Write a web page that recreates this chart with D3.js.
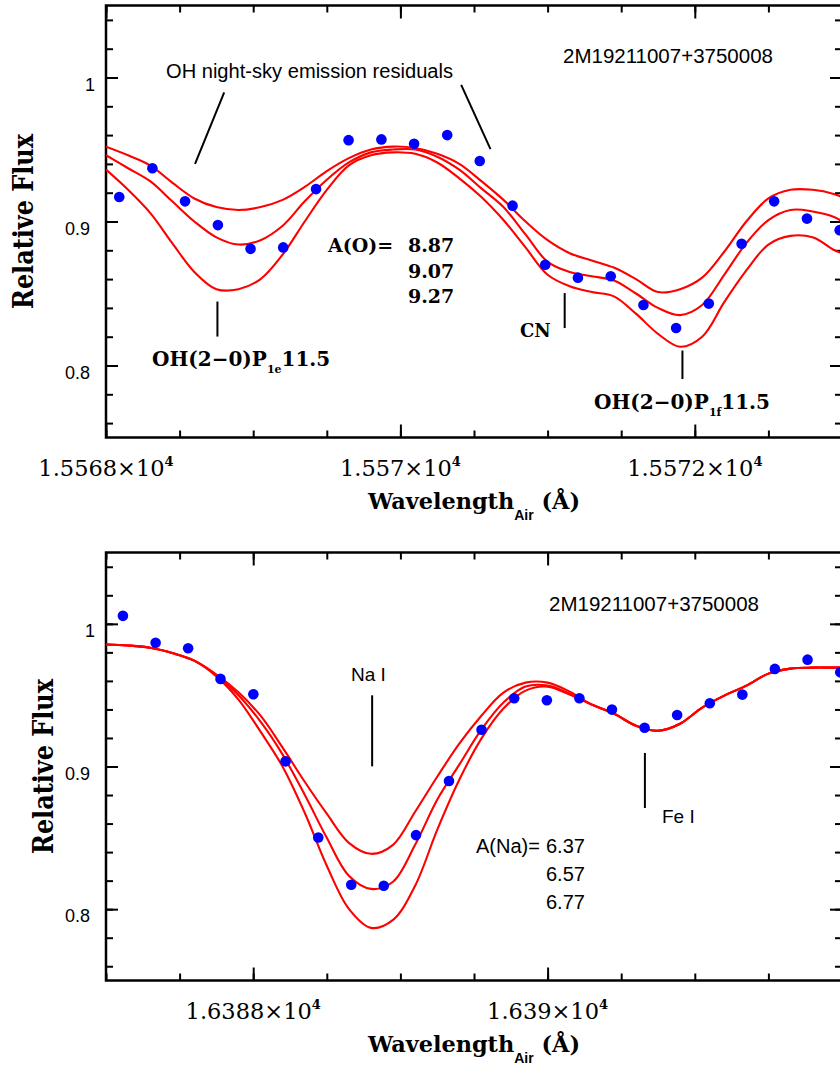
<!DOCTYPE html>
<html>
<head>
<meta charset="utf-8">
<script src="https://cdn.jsdelivr.net/npm/d3@7"></script>
<style>
  body { margin: 0; background: #fff; }
  svg { display: block; }
  .sans  { font-family: "Liberation Sans", Arial, sans-serif; }
  .bserif { font-family: "DejaVu Serif", serif; font-weight: bold; }
  .serif { font-family: "DejaVu Serif", serif; }
</style>
</head>
<body>
<svg id="chart" width="840" height="1067"></svg>
<script>
// ── Data: OH / CN region (top panel) ─────────────────────────────────────────
const ohWave = [15568.090, 15568.315, 15568.537, 15568.760, 15568.982, 15569.204, 15569.427,
  15569.648, 15569.871, 15570.093, 15570.318, 15570.539, 15570.762, 15570.984, 15571.206,
  15571.429, 15571.651, 15571.873, 15572.095, 15572.318, 15572.539, 15572.762, 15572.984];
const ohFlux = [0.917, 0.937, 0.914, 0.8975, 0.881, 0.882, 0.9225, 0.9565, 0.957, 0.954,
  0.960, 0.942, 0.911, 0.870, 0.861, 0.862, 0.842, 0.826, 0.843, 0.8845, 0.914, 0.902, 0.894];

const ohModelWave = [15568.00, 15568.15, 15568.30, 15568.45, 15568.60, 15568.75, 15568.90,
  15569.05, 15569.20, 15569.35, 15569.50, 15569.65, 15569.80, 15569.95, 15570.10, 15570.25,
  15570.40, 15570.55, 15570.70, 15570.85, 15571.00, 15571.15, 15571.30, 15571.45, 15571.60,
  15571.75, 15571.90, 15572.05, 15572.20, 15572.35, 15572.50, 15572.65, 15572.80, 15572.95, 15573.00];
const ohModel887 = [0.952, 0.946, 0.939, 0.927, 0.916, 0.910, 0.908, 0.910, 0.915, 0.924, 0.935,
  0.944, 0.950, 0.952, 0.951, 0.947, 0.940, 0.928, 0.915, 0.900, 0.887, 0.878, 0.873, 0.868,
  0.860, 0.851, 0.853, 0.861, 0.879, 0.900, 0.916, 0.922, 0.922, 0.919, 0.917];
const ohModel907 = [0.946, 0.937, 0.928, 0.914, 0.900, 0.889, 0.884, 0.887, 0.897, 0.914, 0.929,
  0.941, 0.948, 0.950, 0.950, 0.945, 0.936, 0.923, 0.910, 0.891, 0.872, 0.865, 0.862, 0.859,
  0.850, 0.840, 0.835, 0.842, 0.863, 0.885, 0.901, 0.908, 0.907, 0.903, 0.900];
const ohModel927 = [0.936, 0.922, 0.906, 0.885, 0.865, 0.853, 0.853, 0.860, 0.877, 0.900, 0.922,
  0.939, 0.946, 0.948, 0.947, 0.941, 0.930, 0.917, 0.901, 0.882, 0.863, 0.855, 0.851, 0.848,
  0.836, 0.822, 0.813, 0.820, 0.844, 0.866, 0.884, 0.890, 0.889, 0.880, 0.878];

// ── Data: Na I region (bottom panel) ─────────────────────────────────────────
const naWave = [16387.115, 16387.337, 16387.558, 16387.778, 16388.001, 16388.220, 16388.442,
  16388.666, 16388.887, 16389.106, 16389.330, 16389.551, 16389.773, 16389.995, 16390.216,
  16390.437, 16390.659, 16390.880, 16391.102, 16391.323, 16391.544, 16391.766, 16391.988];
const naFlux = [1.0056, 0.9867, 0.9829, 0.9614, 0.9506, 0.9036, 0.8502, 0.8171, 0.8164, 0.8519,
  0.8898, 0.9258, 0.9478, 0.9464, 0.9478, 0.9399, 0.9272, 0.9361, 0.9443, 0.9504, 0.9684, 0.9749, 0.966];

const naModelWave = [16387.00, 16387.15, 16387.30, 16387.45, 16387.60, 16387.75, 16387.90,
  16388.05, 16388.20, 16388.35, 16388.50, 16388.65, 16388.80, 16388.95, 16389.10, 16389.25,
  16389.40, 16389.55, 16389.70, 16389.85, 16390.00, 16390.15, 16390.30, 16390.45, 16390.60,
  16390.75, 16390.90, 16391.05, 16391.20, 16391.35, 16391.50, 16391.65, 16391.80, 16391.95, 16392.00];
const naModel637 = [0.9855, 0.9848, 0.9832, 0.9795, 0.9742, 0.9645, 0.9520, 0.9356, 0.9132, 0.8893,
  0.8669, 0.8465, 0.8388, 0.8451, 0.8683, 0.8928, 0.9160, 0.9356, 0.9518, 0.9588, 0.9588, 0.9525,
  0.9434, 0.9371, 0.9286, 0.9251, 0.9300, 0.9413, 0.9497, 0.9567, 0.9651, 0.9686, 0.9693, 0.9693, 0.9693];
const naModel657 = [0.9855, 0.9848, 0.9832, 0.9795, 0.9742, 0.9640, 0.9500, 0.9314, 0.9083, 0.8802,
  0.8500, 0.8234, 0.8142, 0.8192, 0.8451, 0.8767, 0.9013, 0.9258, 0.9448, 0.9560, 0.9567, 0.9511,
  0.9434, 0.9371, 0.9286, 0.9251, 0.9300, 0.9413, 0.9497, 0.9567, 0.9651, 0.9686, 0.9693, 0.9693, 0.9693];
const naModel677 = [0.9855, 0.9848, 0.9832, 0.9795, 0.9740, 0.9632, 0.9469, 0.9244, 0.8999, 0.8676,
  0.8304, 0.8002, 0.7869, 0.7925, 0.8164, 0.8556, 0.8907, 0.9195, 0.9406, 0.9532, 0.9560, 0.9504,
  0.9434, 0.9371, 0.9286, 0.9251, 0.9300, 0.9413, 0.9497, 0.9567, 0.9651, 0.9686, 0.9693, 0.9693, 0.9693];

// ── Axes: tick values and labels ─────────────────────────────────────────────
const yMajor = [0.8, 0.9, 1.0];
const yLabels = ['0.8', '0.9', '1'];
const yMinor = [0.76, 0.78, 0.80, 0.82, 0.84, 0.86, 0.88, 0.90, 0.92, 0.94, 0.96, 0.98, 1.00, 1.02, 1.04];
const ohXMajor = [15568, 15570, 15572];
const ohXLabels = ['1.5568', '1.557', '1.5572'];
const naXMajor = [16388, 16390];
const naXLabels = ['1.6388', '1.639'];

const svg = d3.select('#chart');
const X0 = 106, X1 = 842;

function drawPanel(p) {
  const x = d3.scaleLinear().domain(p.xDomain).range([X0, X1]);
  const y = d3.scaleLinear().domain([0.75, 1.05]).range(p.yRange);
  const top = p.yRange[1], bot = p.yRange[0];
  const g = svg.append('g');

  const clipId = 'clip-' + p.id;
  g.append('clipPath').attr('id', clipId)
    .append('rect').attr('x', X0).attr('y', top).attr('width', X1 - X0).attr('height', bot - top);

  const xMinor = d3.range(p.xDomain[0], p.xDomain[1] + 0.01, 0.5);

  // ticks, all pointing inward
  const tick = (axis, pos) => g.append('g')
    .attr('transform', pos)
    .call(axis.tickSizeOuter(0).tickFormat(''))
    .call(a => a.select('.domain').remove())
    .call(a => a.selectAll('line').attr('stroke', '#000').attr('stroke-width', 2));

  tick(d3.axisLeft(y).tickValues(yMinor).tickSize(-7), `translate(${X0},0)`);
  tick(d3.axisLeft(y).tickValues(yMajor).tickSize(-12), `translate(${X0},0)`);
  tick(d3.axisRight(y).tickValues(yMinor).tickSize(-7), `translate(${X1},0)`);
  tick(d3.axisRight(y).tickValues(yMajor).tickSize(-12), `translate(${X1},0)`);
  tick(d3.axisBottom(x).tickValues(xMinor).tickSize(-7), `translate(0,${bot})`);
  tick(d3.axisBottom(x).tickValues(p.xMajor).tickSize(-13), `translate(0,${bot})`);
  tick(d3.axisTop(x).tickValues(xMinor).tickSize(-7), `translate(0,${top})`);
  tick(d3.axisTop(x).tickValues(p.xMajor).tickSize(-13), `translate(0,${top})`);

  g.append('rect')
    .attr('x', X0).attr('y', top).attr('width', X1 - X0).attr('height', bot - top)
    .attr('fill', 'none').attr('stroke', '#000').attr('stroke-width', 2.5);

  // y tick labels (hang below the tick)
  g.selectAll('.ylab').data(yMajor).enter().append('text')
    .attr('class', 'sans ylab')
    .attr('x', (d, i) => yLabels[i] === '1' ? 95 : 90).attr('y', d => y(d) + 13)
    .attr('text-anchor', 'end').attr('font-size', 18)
    .text((d, i) => yLabels[i]);

  // x tick labels  m×10^4
  const xl = g.selectAll('.xlab').data(p.xMajor).enter().append('text')
    .attr('class', 'serif xlab')
    .attr('x', d => x(d)).attr('y', bot + 38)
    .attr('text-anchor', 'middle').attr('font-size', 22.5);
  xl.append('tspan').text((d, i) => p.xLabels[i] + '×10');
  xl.append('tspan').attr('font-size', 13).attr('font-weight', 'bold').attr('dy', -10).text('4');

  // axis titles
  const xt = g.append('text').attr('class', 'bserif')
    .attr('x', (X0 + X1) / 2).attr('y', bot + 71)
    .attr('text-anchor', 'middle').attr('font-size', 22.4);
  xt.append('tspan').text('Wavelength');
  xt.append('tspan').attr('class', 'sans').attr('font-size', 14).attr('dy', 11).text('Air');
  xt.append('tspan').attr('dy', -11).text('\u00a0(Å)');

  g.append('text').attr('class', 'bserif')
    .attr('transform', `translate(${p.yTitleX},${(top + bot) / 2}) rotate(-90)`)
    .attr('text-anchor', 'middle').attr('font-size', 27)
    .attr('textLength', 175).attr('lengthAdjust', 'spacingAndGlyphs')
    .text('Relative Flux');

  // model spectra
  const line = d3.line().x(d => x(d[0])).y(d => y(d[1])).curve(d3.curveCatmullRom.alpha(0.5));
  const models = g.append('g').attr('clip-path', `url(#${clipId})`);
  models.selectAll('path').data(p.models).enter().append('path')
    .attr('d', m => line(d3.zip(p.modelWave, m)))
    .attr('fill', 'none').attr('stroke', '#ff0000').attr('stroke-width', 2.1);

  // observed spectrum
  g.append('g').selectAll('circle').data(d3.zip(p.wave, p.flux)).enter().append('circle')
    .attr('cx', d => x(d[0])).attr('cy', d => y(d[1])).attr('r', 5.3)
    .attr('fill', '#0000ff');

  // line markers
  g.append('g').selectAll('line').data(p.markers).enter().append('line')
    .attr('x1', d => x(d[0])).attr('y1', d => y(d[1]))
    .attr('x2', d => x(d[2])).attr('y2', d => y(d[3]))
    .attr('stroke', '#000').attr('stroke-width', 2);

  return g;
}

// ── Top panel ────────────────────────────────────────────────────────────────
const gTop = drawPanel({
  id: 'oh', xDomain: [15568, 15573], yRange: [437.5, 5.5], yTitleX: 33,
  xMajor: ohXMajor, xLabels: ohXLabels,
  wave: ohWave, flux: ohFlux, modelWave: ohModelWave,
  models: [ohModel887, ohModel907, ohModel927],
  markers: [
    [15568.803, 0.9896, 15568.605, 0.940],
    [15570.413, 0.9949, 15570.612, 0.9503],
    [15568.757, 0.8444, 15568.757, 0.8201],
    [15571.116, 0.8503, 15571.116, 0.8260],
    [15571.916, 0.8104, 15571.916, 0.7906]
  ]
});

gTop.append('text').attr('class', 'sans').attr('x', 166).attr('y', 77.5)
  .attr('font-size', 20).attr('textLength', 287).attr('lengthAdjust', 'spacingAndGlyphs')
  .text('OH night-sky emission residuals');
gTop.append('text').attr('class', 'sans').attr('x', 563).attr('y', 62.5)
  .attr('font-size', 20.5).text('2M19211007+3750008');
gTop.append('text').attr('class', 'bserif').attr('x', 328).attr('y', 251.7)
  .attr('font-size', 19).text('A(O)=');
['8.87', '9.07', '9.27'].forEach((t, i) => {
  gTop.append('text').attr('class', 'bserif').attr('x', 408).attr('y', [251.7, 278.3, 303.3][i])
    .attr('font-size', 19).text(t);
});
function ohLabel(xp, yp, sub) {
  const t = gTop.append('text').attr('class', 'bserif').attr('x', xp).attr('y', yp).attr('font-size', 20);
  t.append('tspan').text('OH(2−0)P');
  t.append('tspan').attr('font-size', 11).attr('dy', 7).text(sub);
  t.append('tspan').attr('dy', -7).text('11.5');
}
ohLabel(152, 365.5, '1e');
ohLabel(594, 409.3, '1f');
gTop.append('text').attr('class', 'bserif').attr('x', 520).attr('y', 337.3)
  .attr('font-size', 18).text('CN');

// ── Bottom panel ─────────────────────────────────────────────────────────────
const gBot = drawPanel({
  id: 'na', xDomain: [16387, 16392], yRange: [980.5, 552.5], yTitleX: 53,
  xMajor: naXMajor, xLabels: naXLabels,
  wave: naWave, flux: naFlux, modelWave: naModelWave,
  models: [naModel637, naModel657, naModel677],
  markers: [
    [16388.808, 0.9499, 16388.808, 0.9001],
    [16390.661, 0.9095, 16390.661, 0.8709]
  ]
});

gBot.append('text').attr('class', 'sans').attr('x', 549).attr('y', 610.7)
  .attr('font-size', 20.5).text('2M19211007+3750008');
gBot.append('text').attr('class', 'sans').attr('x', 351).attr('y', 680.7)
  .attr('font-size', 19).text('Na I');
gBot.append('text').attr('class', 'sans').attr('x', 662).attr('y', 823.3)
  .attr('font-size', 19).text('Fe I');
gBot.append('text').attr('class', 'sans').attr('x', 476).attr('y', 852.7)
  .attr('font-size', 20).text('A(Na)=');
['6.37', '6.57', '6.77'].forEach((t, i) => {
  gBot.append('text').attr('class', 'sans').attr('x', 546).attr('y', [852.7, 880.7, 909.3][i])
    .attr('font-size', 20).text(t);
});
</script>
</body>
</html>
